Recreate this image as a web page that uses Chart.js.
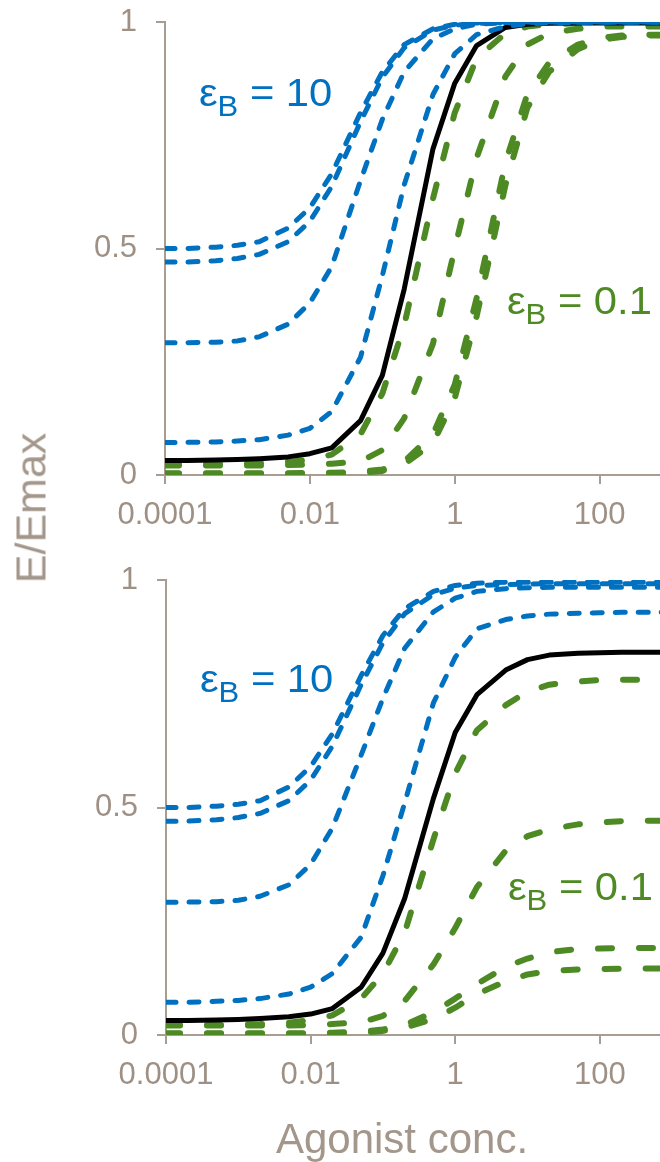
<!DOCTYPE html>
<html>
<head>
<meta charset="utf-8">
<script src="https://cdn.jsdelivr.net/npm/chart.js@4.4.1/dist/chart.umd.min.js"></script>
<style>
  html, body { margin: 0; padding: 0; background: #fff; }
  #wrap { position: relative; width: 660px; height: 1162px; overflow: hidden; font-family: "Liberation Sans", Arial, sans-serif; }
  canvas { position: absolute; left: 0; }
  #topChart { top: 0; }
  #bottomChart { top: 560px; }
  .lab { position: absolute; font-size: 39px; line-height: 1; white-space: nowrap; transform: scaleX(1.07); transform-origin: left top; }
  .lab sub { font-size: 29px; vertical-align: -10px; line-height: 0; }
  .blue { color: #0070c0; }
  .green { color: #4e8a24; }
  .title { position: absolute; color: #a3968a; white-space: nowrap; line-height: 1; }
  #ytitle { left: 31px; top: 508px; font-size: 43px; transform: translate(-50%, -50%) rotate(-90deg); }
  #xtitle { left: 402px; top: 1118px; font-size: 42px; transform: translateX(-50%); }
</style>
</head>
<body>
<div id="wrap">
  <canvas id="topChart" width="660" height="560"></canvas>
  <canvas id="bottomChart" width="660" height="602"></canvas>
  <div class="lab blue" style="left:199px; top:73px;">ε<sub>B</sub> = 10</div>
  <div class="lab green" style="left:507px; top:281px;">ε<sub>B</sub> = 0.1</div>
  <div class="lab blue" style="left:200px; top:659px;">ε<sub>B</sub> = 10</div>
  <div class="lab green" style="left:508px; top:867px;">ε<sub>B</sub> = 0.1</div>
  <div class="title" id="ytitle">E/Emax</div>
  <div class="title" id="xtitle">Agonist conc.</div>
</div>
<script>
// agonist concentrations (x)
const concs = [0.0001, 0.0002, 0.0005, 0.001, 0.002, 0.005, 0.01, 0.02, 0.05, 0.1, 0.2, 0.5, 1, 2, 5, 10, 20, 50, 100, 200, 500, 1000];

const xTickValues = [0.0001, 0.01, 1, 100];
const xTickLabels = ['0.0001', '0.01', '1', '100'];
const yTickValues = [0, 0.5, 1];
const yTickLabels = ['0', '0.5', '1'];

// top panel
const topBlack  = [0.032, 0.032, 0.033, 0.034, 0.036, 0.04, 0.047, 0.06, 0.12, 0.22, 0.41, 0.72, 0.865, 0.948, 0.988, 0.995, 0.997, 0.998, 0.998, 0.998, 0.998, 0.998];
const topBlue1  = [0.50, 0.50, 0.503, 0.507, 0.515, 0.545, 0.59, 0.665, 0.80, 0.89, 0.95, 0.985, 0.995, 0.998, 0.999, 1, 1, 1, 1, 1, 1, 1];
const topBlue2  = [0.47, 0.47, 0.473, 0.478, 0.487, 0.515, 0.56, 0.637, 0.78, 0.878, 0.943, 0.982, 0.993, 0.997, 0.999, 1, 1, 1, 1, 1, 1, 1];
const topBlue3  = [0.292, 0.292, 0.293, 0.296, 0.305, 0.333, 0.38, 0.46, 0.65, 0.785, 0.89, 0.963, 0.985, 0.995, 0.998, 0.999, 1, 1, 1, 1, 1, 1];
const topBlue4  = [0.072, 0.072, 0.073, 0.075, 0.078, 0.088, 0.103, 0.14, 0.26, 0.44, 0.64, 0.84, 0.93, 0.972, 0.99, 0.996, 0.998, 0.999, 1, 1, 1, 1];
const topGreen1 = [0.024, 0.024, 0.024, 0.025, 0.026, 0.029, 0.034, 0.045, 0.09, 0.18, 0.33, 0.61, 0.80, 0.92, 0.975, 0.99, 0.995, 0.997, 0.998, 0.998, 0.998, 0.998];
const topGreen2 = [0.021, 0.021, 0.021, 0.021, 0.021, 0.022, 0.023, 0.025, 0.03, 0.055, 0.125, 0.29, 0.50, 0.70, 0.88, 0.95, 0.975, 0.985, 0.99, 0.99, 0.99, 0.99];
const topGreen3 = [0.004, 0.004, 0.004, 0.004, 0.004, 0.004, 0.005, 0.005, 0.007, 0.012, 0.03, 0.09, 0.20, 0.39, 0.69, 0.84, 0.91, 0.95, 0.965, 0.97, 0.972, 0.972];
const topGreen4 = [0.003, 0.003, 0.003, 0.003, 0.003, 0.003, 0.003, 0.004, 0.005, 0.009, 0.024, 0.07, 0.17, 0.35, 0.64, 0.81, 0.89, 0.94, 0.96, 0.967, 0.97, 0.97];

// bottom panel
const botBlack  = [0.032, 0.032, 0.033, 0.034, 0.036, 0.04, 0.046, 0.058, 0.105, 0.18, 0.30, 0.52, 0.665, 0.748, 0.802, 0.825, 0.835, 0.839, 0.84, 0.841, 0.841, 0.841];
const botBlue1  = [0.50, 0.50, 0.503, 0.507, 0.515, 0.545, 0.59, 0.662, 0.79, 0.878, 0.937, 0.975, 0.988, 0.993, 0.995, 0.995, 0.995, 0.995, 0.995, 0.995, 0.995, 0.995];
const botBlue2  = [0.47, 0.47, 0.473, 0.478, 0.487, 0.515, 0.56, 0.635, 0.77, 0.862, 0.926, 0.968, 0.982, 0.988, 0.99, 0.991, 0.992, 0.992, 0.992, 0.992, 0.992, 0.992];
const botBlue3  = [0.292, 0.292, 0.293, 0.296, 0.305, 0.33, 0.375, 0.455, 0.615, 0.74, 0.85, 0.93, 0.96, 0.975, 0.981, 0.983, 0.984, 0.984, 0.984, 0.984, 0.984, 0.984];
const botBlue4  = [0.072, 0.072, 0.074, 0.076, 0.08, 0.09, 0.105, 0.135, 0.215, 0.35, 0.51, 0.73, 0.83, 0.893, 0.913, 0.921, 0.925, 0.927, 0.928, 0.929, 0.929, 0.929];
const botGreen1 = [0.022, 0.022, 0.022, 0.023, 0.024, 0.027, 0.033, 0.043, 0.08, 0.135, 0.225, 0.43, 0.575, 0.67, 0.725, 0.755, 0.77, 0.777, 0.78, 0.781, 0.781, 0.781];
const botGreen2 = [0.021, 0.021, 0.021, 0.021, 0.021, 0.021, 0.022, 0.024, 0.028, 0.042, 0.075, 0.155, 0.235, 0.325, 0.405, 0.437, 0.452, 0.463, 0.467, 0.47, 0.471, 0.471];
const botGreen3 = [0.004, 0.004, 0.004, 0.004, 0.004, 0.004, 0.004, 0.005, 0.007, 0.012, 0.022, 0.05, 0.08, 0.112, 0.15, 0.168, 0.182, 0.189, 0.19, 0.191, 0.191, 0.191];
const botGreen4 = [0.003, 0.003, 0.003, 0.003, 0.003, 0.003, 0.003, 0.004, 0.005, 0.009, 0.016, 0.035, 0.06, 0.09, 0.118, 0.133, 0.141, 0.144, 0.145, 0.146, 0.146, 0.146];

const axisColor = '#a99d92';
const labelColor = '#9e9084';
const fontFamily = '"Liberation Sans", Arial, sans-serif';

function pts(arr) {
    return concs.map((c, i) => ({x: c, y: arr[i]}));
}

function zeroPad(s) {
    s.paddingTop = 0; s.paddingBottom = 0; s.paddingLeft = 0; s.paddingRight = 0;
}

function makePanel(id, blues, black, greens, padTop, xHeight, yWidth) {
    const datasets = [];
    blues.forEach(s => datasets.push({
        data: pts(s), borderColor: '#0070c0', borderWidth: 5,
        borderDash: [10, 13], borderCapStyle: 'round'
    }));
    datasets.push({data: pts(black), borderColor: '#000000', borderWidth: 5});
    greens.forEach(s => datasets.push({
        data: pts(s), borderColor: '#4e8a24', borderWidth: 6,
        borderDash: [14, 27], borderCapStyle: 'round'
    }));

    return new Chart(document.getElementById(id), {
        type: 'line',
        data: {datasets: datasets},
        options: {
            responsive: false,
            animation: false,
            events: [],
            layout: {padding: {top: padTop, right: 0, bottom: 0, left: 0}},
            elements: {
                point: {radius: 0},
                line: {tension: 0, fill: false, borderJoinStyle: 'round'}
            },
            plugins: {legend: {display: false}, tooltip: {enabled: false}},
            scales: {
                x: {
                    type: 'logarithmic',
                    min: 0.0001,
                    max: 680,
                    afterBuildTicks: s => { s.ticks = xTickValues.map(v => ({value: v})); },
                    afterFit: s => { s.height = xHeight; zeroPad(s); },
                    border: {color: axisColor, width: 2},
                    grid: {drawOnChartArea: false, color: axisColor, lineWidth: 2, tickLength: 9},
                    ticks: {
                        color: labelColor, padding: 13, autoSkip: false, maxRotation: 0,
                        font: {family: fontFamily, size: 31},
                        callback: (v, i) => xTickLabels[i]
                    }
                },
                y: {
                    min: 0,
                    max: 1,
                    afterBuildTicks: s => { s.ticks = yTickValues.map(v => ({value: v})); },
                    afterFit: s => { s.width = yWidth; zeroPad(s); },
                    border: {color: axisColor, width: 2},
                    grid: {drawOnChartArea: false, color: axisColor, lineWidth: 2, tickLength: 9},
                    ticks: {
                        color: labelColor, padding: 19,
                        font: {family: fontFamily, size: 31},
                        callback: (v, i) => yTickLabels[i]
                    }
                }
            }
        }
    });
}

makePanel('topChart',
    [topBlue1, topBlue2, topBlue3, topBlue4], topBlack,
    [topGreen1, topGreen2, topGreen3, topGreen4], 22, 85, 165);
makePanel('bottomChart',
    [botBlue1, botBlue2, botBlue3, botBlue4], botBlack,
    [botGreen1, botGreen2, botGreen3, botGreen4], 20, 127, 166);
</script>
</body>
</html>
